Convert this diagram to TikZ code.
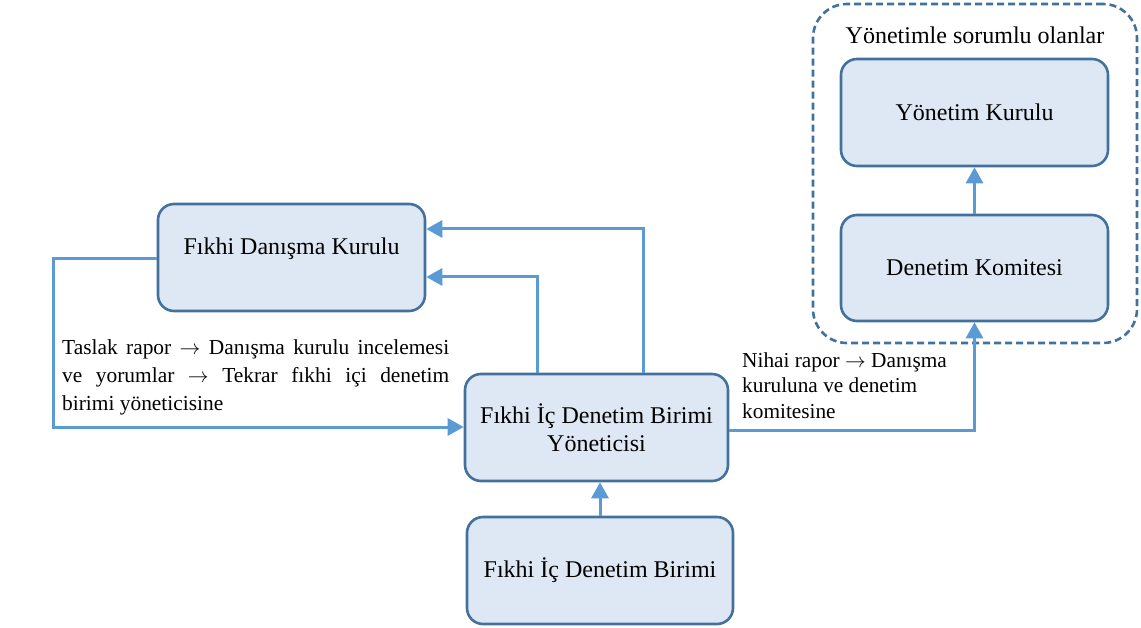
\documentclass[tikz,border=0pt]{standalone}
\usepackage{fontspec}
\setmainfont{Liberation Serif}
\usetikzlibrary{arrows.meta}
\definecolor{boxfill}{HTML}{DEE8F4}
\definecolor{boxline}{HTML}{41719C}
\definecolor{arrowc}{HTML}{5B9BD5}
\newcommand{\arrw}{\ensuremath{\rightarrow}}
\begin{document}
\begin{tikzpicture}[x=1pt,y=-1pt,
  box/.style={draw=boxline, line width=2.6pt, fill=boxfill, rounded corners=16pt,
    minimum width=267pt, minimum height=107pt, inner sep=0pt,
    font=\fontsize{24}{28}\selectfont, align=center},
  grpbox/.style={draw=boxline, line width=2.6pt, dash pattern=on 7pt off 4pt,
    rounded corners=34pt, inner sep=0pt},
  arr/.style={draw=arrowc, line width=3pt, -{Triangle[length=16pt,width=17pt]}},
  lbl/.style={font=\fontsize{21.4}{28}\selectfont, inner sep=0pt, align=left, anchor=north west},
  lbltwo/.style={font=\fontsize{21.3}{25.5}\selectfont, inner sep=0pt, align=left, anchor=north west},
  title/.style={font=\fontsize{24}{28}\selectfont, inner sep=0pt, anchor=base}]
\useasboundingbox (0,0) rectangle (1141,628);

% group container
\node[grpbox, minimum width=324pt, minimum height=339pt] (grp) at (975,173.5) {};
\node[title] (grpt) at (975,44) {Yönetimle sorumlu olanlar};

% boxes
\node[box, text height=8pt, text depth=13pt] (fdk) at (291.5,257.5) {Fıkhi Danışma Kurulu};
\node[box, minimum width=263pt] (yon) at (596.5,427.5) {Fıkhi İç Denetim Birimi\\Yöneticisi};
\node[box, minimum width=266pt] (bot) at (600,570.5) {Fıkhi İç Denetim Birimi};
\node[box] (yk) at (974.5,112.5) {Yönetim Kurulu};
\node[box, minimum height=106pt] (dk) at (974.5,268) {Denetim Komitesi};

% labels
\node[lbl] (lt) at (62,339) {\makebox[387pt][s]{Taslak rapor \arrw{} Danışma kurulu incelemesi}\\
  \makebox[387pt][s]{ve yorumlar \arrw{} Tekrar fıkhi içi denetim}\\
  birimi yöneticisine};
\node[lbltwo] (ln) at (742,352.5) {Nihai rapor \arrw{} Danışma\\kuruluna ve denetim\\komitesine};

% helper coordinates
\coordinate (c1) at (643,229);
\coordinate (c2) at (537,277);
\coordinate (c3) at (53,259);
\coordinate (c4) at (0,427);
\coordinate (c5) at (0,430);

% connectors
\draw[arr] (yon.north -| c1) |- (fdk.east |- c1);
\draw[arr] (yon.north -| c2) |- (fdk.east |- c2);
\draw[arr] (fdk.west |- c3) -- (c3) |- (yon.west |- c4);
\draw[arr] (yon.east |- c5) -| (dk.south);
\draw[arr] (dk.north) -- (yk.south);
\draw[arr] (bot.north) -- (yon.south -| bot.north);
\end{tikzpicture}
\end{document}
